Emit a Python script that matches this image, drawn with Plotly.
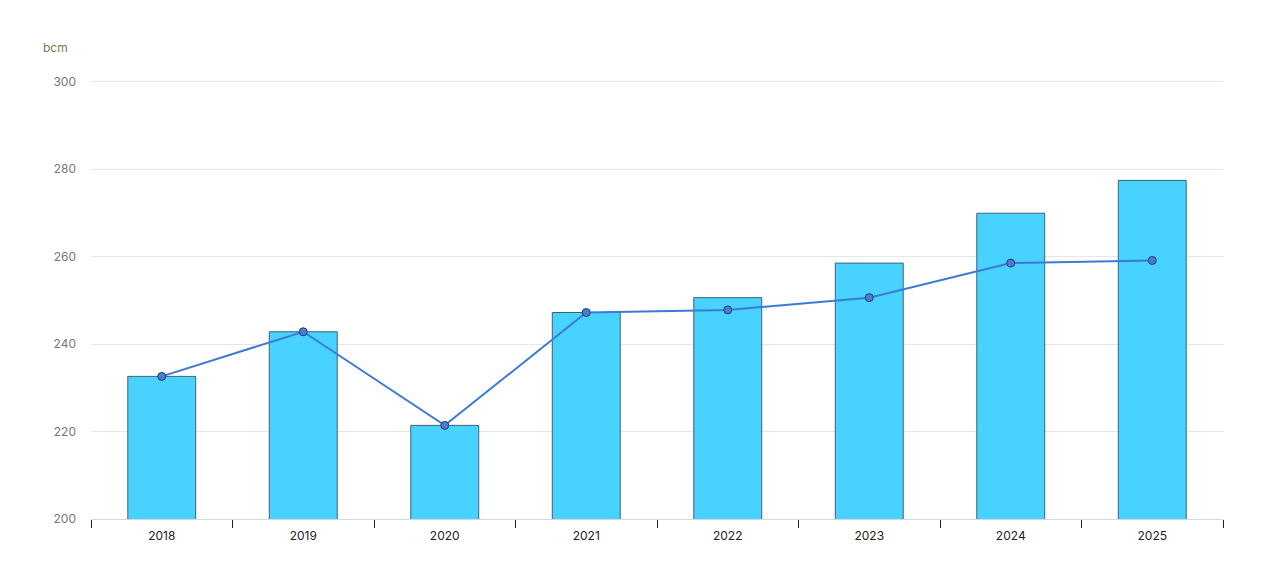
import plotly.graph_objects as go

years = ["2018", "2019", "2020", "2021", "2022", "2023", "2024", "2025"]
bar_values = [232.6, 242.8, 221.4, 247.2, 250.6, 258.5, 269.9, 277.4]
line_values = [232.6, 242.8, 221.4, 247.2, 247.8, 250.6, 258.5, 259.1]
y_ticks = [200, 220, 240, 260, 280, 300]

fig = go.Figure()
fig.add_trace(go.Bar(
    x=years, y=bar_values, width=0.48,
    marker=dict(color="#48D2FF", line=dict(color="#3d6275", width=1)),
    showlegend=False,
))
fig.add_trace(go.Scatter(
    x=years, y=line_values, mode="lines+markers",
    line=dict(color="#3b7bd6", width=2),
    marker=dict(size=8, color="#4d7bd0", line=dict(color="#1f3c70", width=1)),
    showlegend=False,
))

# page body adds an 8px margin, so margins are shifted to compensate
fig.update_layout(
    width=1276, height=584,
    margin=dict(l=83, r=61, t=72, b=73),
    paper_bgcolor="white", plot_bgcolor="white",
    font=dict(family="Inter", size=12, color="#333333"),
    annotations=[dict(text="bcm", x=0, y=1, xref="paper", yref="paper",
                      xshift=-50, yshift=42, xanchor="left", yanchor="top",
                      showarrow=False, font=dict(color="#8a7650", size=12))],
)
fig.update_xaxes(
    type="category", showgrid=False, showline=True, linecolor="#d3d9e0",
    ticks="outside", tickson="boundaries", ticklen=8, tickcolor="#222222",
    ticklabelstandoff=6, tickfont=dict(color="#222222", size=12),
)
fig.update_yaxes(
    range=[200, 300.35], tickvals=y_ticks, showgrid=True, gridcolor="#e6e6e6",
    zeroline=False, showline=False, ticks="", ticklabelstandoff=14,
    tickfont=dict(color="#777777", size=12),
)

fig.write_html("out.html")
